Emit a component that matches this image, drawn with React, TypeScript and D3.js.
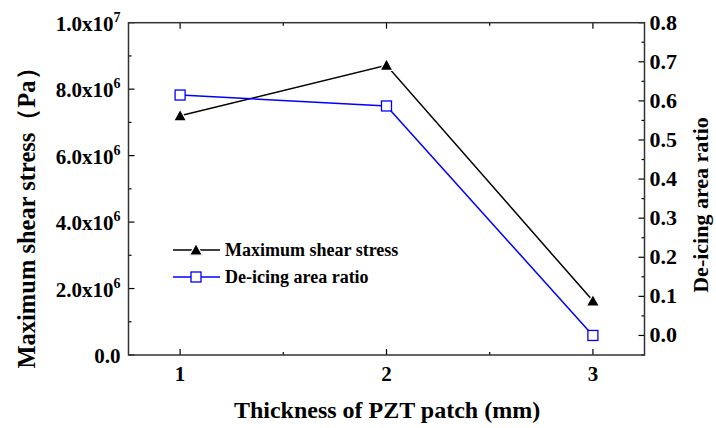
import { scaleLinear, line } from "d3"

const thickness = [1, 2, 3]
const shearStress = [7.2e6, 8.72e6, 1.63e6]
const deicingRatio = [0.615, 0.587, 0.0]
const xTicks = [1, 2, 3]
const leftTicks = [0, 2e6, 4e6, 6e6, 8e6, 1e7]
const rightTicks = [0, 0.1, 0.2, 0.3, 0.4, 0.5, 0.6, 0.7, 0.8]
const legendNames = ["Maximum shear stress", "De-icing area ratio"]

const W = 716
const H = 428
const M = { left: 128.5, top: 22.7, right: 71.5, bottom: 73 }
const FONT = "'Liberation Serif', 'Times New Roman', serif"

function leftLabel(v: number) {
  if (v === 0) return { base: "0.0", exp: "" }
  const e = Math.floor(Math.log10(v) + 1e-9)
  return { base: (v / Math.pow(10, e)).toFixed(1) + "x10", exp: String(e) }
}

export default function App() {
  const x = scaleLinear().domain([0.75, 3.25]).range([M.left, W - M.right])
  const yL = scaleLinear().domain([0, 1e7]).range([H - M.bottom, M.top])
  const yR = scaleLinear().domain([-0.05, 0.8]).range([H - M.bottom, M.top])
  const x0 = M.left, x1 = W - M.right, y0 = H - M.bottom, y1 = M.top

  const shearLine = line<number>().x((_, i) => x(thickness[i])).y((d) => yL(d))
  const ratioLine = line<number>().x((_, i) => x(thickness[i])).y((d) => yR(d))

  const tri = (cx: number, cy: number, s = 6.5) =>
    `M${cx},${cy - s}L${cx + s},${cy + s * 0.8}L${cx - s},${cy + s * 0.8}Z`

  const xMinor = [1.5, 2.5]
  const leftMinor = [1e6, 3e6, 5e6, 7e6, 9e6]
  const rightMinor = [-0.05, 0.05, 0.15, 0.25, 0.35, 0.45, 0.55, 0.65, 0.75]

  return (
    <svg width={W} height={H} style={{ position: "absolute", left: 0, top: 0 }} fontFamily={FONT} fontWeight="bold">
      <rect width={W} height={H} fill="#fff" />
      {/* ticks, pointing inward */}
      <g stroke="#000" strokeWidth={1.2}>
        {xTicks.map((t) => (
          <g key={"xt" + t}>
            <line x1={x(t)} x2={x(t)} y1={y0} y2={y0 - 6} />
            <line x1={x(t)} x2={x(t)} y1={y1} y2={y1 + 6} />
          </g>
        ))}
        {xMinor.map((t) => (
          <g key={"xm" + t}>
            <line x1={x(t)} x2={x(t)} y1={y0} y2={y0 - 3} />
            <line x1={x(t)} x2={x(t)} y1={y1} y2={y1 + 3} />
          </g>
        ))}
        {leftTicks.map((t) => (
          <line key={"lt" + t} x1={x0} x2={x0 + 6} y1={yL(t)} y2={yL(t)} />
        ))}
        {leftMinor.map((t) => (
          <line key={"lm" + t} x1={x0} x2={x0 + 3} y1={yL(t)} y2={yL(t)} />
        ))}
        {rightTicks.map((t) => (
          <line key={"rt" + t} x1={x1} x2={x1 - 6} y1={yR(t)} y2={yR(t)} />
        ))}
        {rightMinor.map((t) => (
          <line key={"rm" + t} x1={x1} x2={x1 - 3} y1={yR(t)} y2={yR(t)} />
        ))}
      </g>
      <rect x={x0} y={y1} width={x1 - x0} height={y0 - y1} fill="none" stroke="#333" strokeWidth={1.5} />

      {/* series */}
      <path d={shearLine(shearStress) || ""} fill="none" stroke="#000" strokeWidth={1.5} />
      <path d={ratioLine(deicingRatio) || ""} fill="none" stroke="#0000ff" strokeWidth={1.5} />
      {shearStress.map((v, i) => (
        <path key={"s" + i} d={tri(x(thickness[i]), yL(v))} fill="#000" stroke="#fff" strokeWidth={1.2} />
      ))}
      {deicingRatio.map((v, i) => (
        <rect key={"r" + i} x={x(thickness[i]) - 5} y={yR(v) - 5} width={10} height={10} fill="#fff" stroke="#0000ff" strokeWidth={1.3} />
      ))}

      {/* tick labels */}
      {xTicks.map((t) => (
        <text key={"xl" + t} x={x(t)} y={y0 + 26} textAnchor="middle" fontSize={21}>{t}</text>
      ))}
      {leftTicks.map((t) => {
        const l = leftLabel(t)
        return (
          <text key={"ll" + t} x={x0 - 8} y={yL(t) + 8} textAnchor="end" fontSize={21}>
            {l.base}
            {l.exp && <tspan dy={-9} fontSize={14}>{l.exp}</tspan>}
          </text>
        )
      })}
      {rightTicks.map((t) => (
        <text key={"rl" + t} x={x1 + 5} y={yR(t) + 7} fontSize={22}>{t.toFixed(1)}</text>
      ))}

      {/* axis titles */}
      <text x={387} y={418} textAnchor="middle" fontSize={24}>Thickness of PZT patch (mm)</text>
      <text transform="translate(35,212) rotate(-90)" textAnchor="middle" fontSize={24.5}>Maximum shear stress（Pa）</text>
      <text transform="translate(708,205) rotate(-90)" textAnchor="middle" fontSize={22}>De-icing area ratio</text>

      {/* legend */}
      {legendNames.map((n, i) => {
        const ly = 250 + i * 27
        const c = i === 0 ? "#000" : "#0000ff"
        return (
          <g key={n}>
            <line x1={173} x2={220} y1={ly} y2={ly} stroke={c} strokeWidth={1.5} />
            {i === 0 ? (
              <path d={tri(196, ly)} fill="#000" stroke="#fff" strokeWidth={1.2} />
            ) : (
              <rect x={191} y={ly - 5} width={10} height={10} fill="#fff" stroke={c} strokeWidth={1.3} />
            )}
            <text x={225} y={ly + 6} fontSize={18}>{n}</text>
          </g>
        )
      })}
    </svg>
  )
}
